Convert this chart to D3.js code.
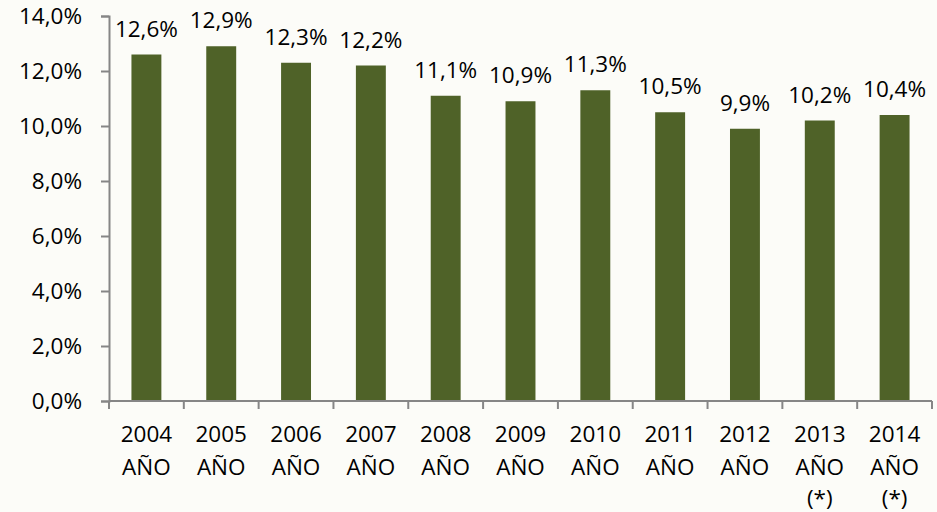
<!DOCTYPE html>
<html>
<head>
<meta charset="utf-8">
<script src="https://cdn.jsdelivr.net/npm/d3@7"></script>
<style>
  html, body { margin: 0; padding: 0; background: #fcfcf8; overflow: hidden; }
  svg { display: block; font-family: "Open Sans", "Liberation Sans", sans-serif; }
</style>
</head>
<body>
<script>
// chart data
const years = ["2004", "2005", "2006", "2007", "2008", "2009", "2010", "2011", "2012", "2013", "2014"];
const notes = ["", "", "", "", "", "", "", "", "", "(*)", "(*)"];
const rates = [12.6, 12.9, 12.3, 12.2, 11.1, 10.9, 11.3, 10.5, 9.9, 10.2, 10.4];
const yTicks = [0, 2, 4, 6, 8, 10, 12, 14];

const width = 937,
  height = 512;
const margin = { top: 16, right: 5, bottom: 111, left: 109 };
const innerWidth = width - margin.left - margin.right;
const innerHeight = height - margin.top - margin.bottom;
const fontSize = 22.5;

const fmt = (v) => v.toFixed(1).replace(".", ",") + "%";

const xScale = d3.scaleBand().domain(years).range([0, innerWidth]).paddingInner(0.6).paddingOuter(0.3);
const yScale = d3.scaleLinear().domain([0, 14]).range([innerHeight, 0]);

const svg = d3.select("body").append("svg").attr("width", width).attr("height", height);
svg.append("rect").attr("width", width).attr("height", height).attr("fill", "#fcfcf8");

const mainG = svg.append("g").attr("transform", `translate(${margin.left},${margin.top})`);

// y axis
const yAxis = d3.axisLeft(yScale).tickValues(yTicks).tickSize(8).tickPadding(19).tickFormat(fmt);
const gy = mainG.append("g").call(yAxis);
gy.attr("font-family", null).attr("font-size", null);
gy.select(".domain").attr("stroke", "#868686").attr("stroke-width", 2);
gy.selectAll(".tick line").attr("stroke", "#868686").attr("stroke-width", 2);
gy.selectAll(".tick text").attr("font-size", fontSize).attr("fill", "#000");

// bars
mainG.selectAll("rect.bar")
  .data(rates)
  .enter()
  .append("rect")
  .attr("class", "bar")
  .attr("x", (d, i) => xScale(years[i]))
  .attr("y", (d) => yScale(d))
  .attr("width", xScale.bandwidth())
  .attr("height", (d) => innerHeight - yScale(d))
  .attr("fill", "#4f6228");

// data labels
mainG.selectAll("text.val")
  .data(rates)
  .enter()
  .append("text")
  .attr("class", "val")
  .attr("x", (d, i) => xScale(years[i]) + xScale.bandwidth() / 2)
  .attr("y", (d) => yScale(d) - 18)
  .attr("text-anchor", "middle")
  .attr("font-size", fontSize)
  .text(fmt);

// x axis line and category ticks
const step = xScale.step();
const xAxisG = mainG.append("g").attr("transform", `translate(0,${innerHeight})`);
xAxisG.append("line").attr("x1", 0).attr("x2", innerWidth).attr("stroke", "#868686").attr("stroke-width", 2);
xAxisG.selectAll("line.tk")
  .data(d3.range(years.length + 1))
  .enter()
  .append("line")
  .attr("class", "tk")
  .attr("x1", (i) => i * step)
  .attr("x2", (i) => i * step)
  .attr("y1", 0)
  .attr("y2", 8)
  .attr("stroke", "#868686")
  .attr("stroke-width", 2);

// category labels, one text per line
const lines = [
  { y: 41, text: (d) => d },
  { y: 74, text: () => "AÑO" },
  { y: 105, text: (d, i) => notes[i] },
];
lines.forEach((ln, k) => {
  xAxisG.selectAll("text.cat" + k)
    .data(years)
    .enter()
    .append("text")
    .attr("class", "cat" + k)
    .attr("x", (d) => xScale(d) + xScale.bandwidth() / 2)
    .attr("y", ln.y)
    .attr("text-anchor", "middle")
    .attr("font-size", fontSize)
    .text(ln.text);
});
</script>
</body>
</html>
